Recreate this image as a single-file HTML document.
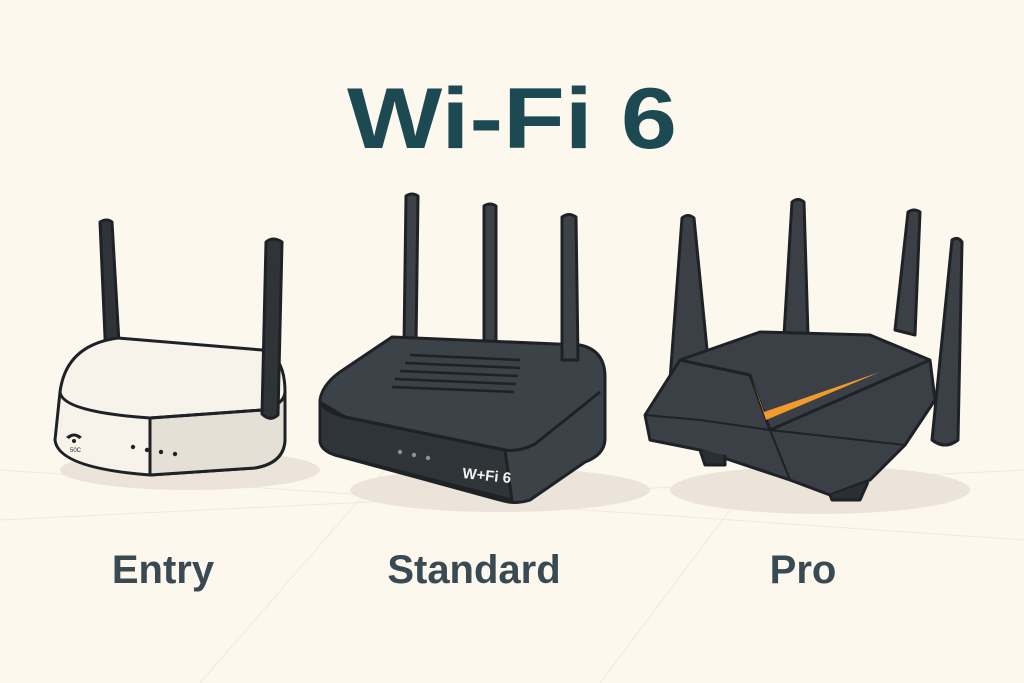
<!DOCTYPE html>
<html><head><meta charset="utf-8"><style>
html,body{margin:0;padding:0;background:#fcf8ee;}
svg{display:block}
</style></head><body>
<svg width="1024" height="683" viewBox="0 0 1024 683" xmlns="http://www.w3.org/2000/svg">
<rect width="1024" height="683" fill="#fcf8ee"/>
<g stroke="#f1e8dc" stroke-width="1" fill="none">
<line x1="0" y1="520" x2="1024" y2="470"/>
<line x1="0" y1="470" x2="1024" y2="540"/>
<line x1="200" y1="683" x2="420" y2="430"/>
<line x1="600" y1="683" x2="760" y2="470"/>
</g>
<text x="512" y="148" text-anchor="middle" font-family="Liberation Sans, sans-serif" font-weight="bold" font-size="86" fill="#1d4a52" textLength="330" lengthAdjust="spacingAndGlyphs">Wi-Fi 6</text>
<g font-family="Liberation Sans, sans-serif" font-weight="bold" font-size="40" fill="#3a4a52" text-anchor="middle">
<text x="163" y="583">Entry</text>
<text x="474" y="583">Standard</text>
<text x="803" y="583">Pro</text>
</g>
<ellipse cx="190" cy="470" rx="130" ry="20" fill="#ece4d8"/>
<ellipse cx="500" cy="490" rx="150" ry="22" fill="#ece4d8"/>
<ellipse cx="820" cy="490" rx="150" ry="24" fill="#ece4d8"/>
<g stroke="#1e2226" stroke-width="3" stroke-linejoin="round">
<path d="M100,222 Q107,218 112,222 L120,360 L106,360 Z" fill="#2f3438"/>
<path d="M60,392 Q66,345 118,338 L262,350 Q285,356 285,392 L285,440 Q284,463 255,468 L150,475 Q58,468 55,440 Z" fill="#f7f3ea"/>
<path d="M150,418 L262,410 Q285,404 285,392 L285,440 Q284,463 255,468 L150,475 Z" fill="#e4e0d6"/>
<path d="M60,392 Q62,412 150,418 L262,410 Q285,404 285,392" fill="none"/>
<path d="M266,242 Q273,236 282,242 L278,415 Q270,422 262,414 Z" fill="#2f3438"/>
</g>
<g fill="#1e2226"><circle cx="133" cy="447" r="2.2"/><circle cx="147" cy="450" r="2.2"/><circle cx="161" cy="452" r="2.2"/><circle cx="175" cy="454" r="2.2"/>
<path d="M66,437 Q74,430 82,437 L79,439 Q74,434 69,439 Z"/><circle cx="74" cy="441" r="2"/></g>
<text x="70" y="452" font-family="Liberation Sans, sans-serif" font-size="6" fill="#1e2226">50C</text>
<g stroke="#1e2226" stroke-width="3" stroke-linejoin="round">
<path d="M406,196 Q412,192 418,196 L416,345 L404,345 Z" fill="#3b4248"/>
<path d="M484,206 Q490,202 496,206 L496,345 L484,345 Z" fill="#3b4248"/>
<path d="M320,400 Q322,385 340,372 L392,337 L580,345 Q604,350 605,375 L605,440 Q604,455 585,462 L530,500 Q515,505 500,500 L335,455 Q320,450 320,440 Z" fill="#3b4248"/>
<path d="M345,417 L505,450 L512,500 L335,455 Q320,450 320,440 L320,402 Z" fill="#2e3438"/>
<path d="M320,402 Q325,412 345,417 L505,450 Q520,452 535,444 L600,392" fill="none"/>
<path d="M562,217 Q569,212 576,217 L578,360 L562,360 Z" fill="#3b4248"/>
</g>
<g stroke="#1e2226" stroke-width="2.5">
<line x1="410" y1="355" x2="520" y2="360"/><line x1="405" y1="363" x2="520" y2="368"/><line x1="400" y1="371" x2="518" y2="376"/><line x1="395" y1="379" x2="516" y2="384"/><line x1="392" y1="387" x2="514" y2="392"/>
</g>
<g fill="#8a9095"><circle cx="400" cy="452" r="2.2"/><circle cx="414" cy="455" r="2.2"/><circle cx="428" cy="458" r="2.2"/></g>
<text x="462" y="478" font-family="Liberation Sans, sans-serif" font-weight="bold" font-size="15" fill="#f4f2ee" transform="rotate(6 462 478)">W+Fi 6</text>
<g stroke="#1e2226" stroke-width="3" stroke-linejoin="round">
<path d="M682,218 Q688,213 694,218 L712,400 L688,412 L670,380 Z" fill="#3a4046"/>
<path d="M792,202 Q798,197 804,202 L808,335 L784,335 Z" fill="#3a4046"/>
<path d="M908,212 Q914,208 920,212 L915,335 L895,330 Z" fill="#3a4046"/>
<path d="M645,415 L680,360 L760,332 L870,335 L930,360 L935,400 L905,445 L870,480 L830,495 L790,480 L700,450 L650,440 Z" fill="#3a4046"/>
<path d="M680,360 L750,375 L770,430 L930,360" fill="none"/>
<path d="M645,415 L700,420 L770,430 L860,440 L905,445" fill="none" stroke-width="2"/>
<path d="M770,430 L790,480" fill="none" stroke-width="2"/>
<path d="M700,450 L705,465 L725,465 L725,455" fill="#2a2f33"/>
<path d="M830,495 L832,500 L860,500 L868,482" fill="#2a2f33"/>
<path d="M952,240 Q958,236 962,242 L958,440 Q945,450 932,440 L938,380 Z" fill="#3a4046"/>
</g>
<path d="M752,378 L766,420 L880,372 L764,412 Z" fill="#f39a2d"/>
</svg>
</body></html>
